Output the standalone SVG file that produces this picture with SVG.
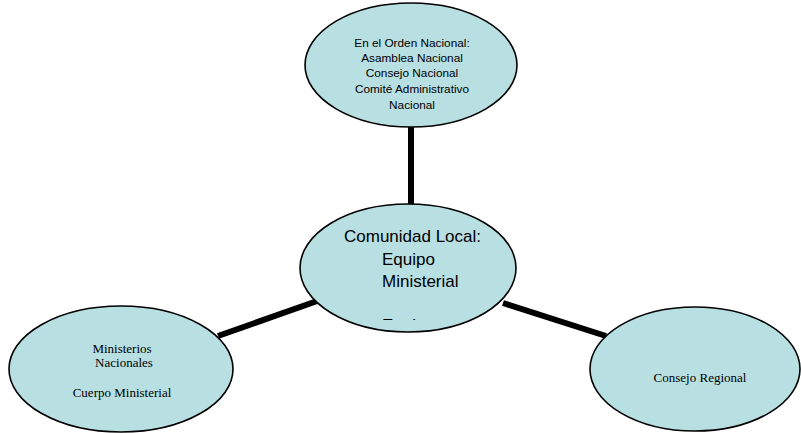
<svg xmlns="http://www.w3.org/2000/svg" width="801" height="433" viewBox="0 0 801 433">
<style>
.node ellipse{fill:#b8dfe2;stroke:#000;stroke-width:1.6}
.conn line{stroke:#000;stroke-width:6}
.sans{font-family:"Liberation Sans","Open Sans",sans-serif;fill:#000}
.serif{font-family:"Liberation Serif","DejaVu Serif",serif;font-size:13px;fill:#000}
</style>
<defs><clipPath id="cl"><rect x="300" y="300" width="200" height="20"/></clipPath></defs>
<g id="connectors" class="conn">
<line x1="411" y1="125" x2="411" y2="207"/>
<line x1="218" y1="336" x2="320" y2="300"/>
<line x1="503" y1="303" x2="606" y2="336"/>
</g>
<g id="node-top" class="node">
<ellipse cx="411" cy="65" rx="106" ry="62"/>
<g class="sans" font-size="11.8" text-anchor="middle">
<text x="412" y="47">En el Orden Nacional:</text>
<text x="412" y="62">Asamblea Nacional</text>
<text x="412" y="77">Consejo Nacional</text>
<text x="412" y="93">Comité Administrativo</text>
<text x="412" y="109">Nacional</text>
</g>
</g>
<g id="node-center" class="node">
<ellipse cx="408" cy="268" rx="108" ry="64"/>
<g class="sans" font-size="17">
<text x="344" y="242">Comunidad Local:</text>
<text x="382" y="265">Equipo</text>
<text x="382" y="287">Ministerial</text>
<text x="382" y="331" clip-path="url(#cl)">Equipo</text>
</g>
</g>
<g id="node-left" class="node">
<ellipse cx="121" cy="369" rx="112" ry="63"/>
<g class="serif" text-anchor="middle">
<text x="122" y="353">Ministerios</text>
<text x="124" y="367">Nacionales</text>
<text x="122" y="397">Cuerpo Ministerial</text>
</g>
</g>
<g id="node-right" class="node">
<ellipse cx="695" cy="369" rx="105" ry="62"/>
<text class="serif" x="700" y="382" text-anchor="middle">Consejo Regional</text>
</g>
</svg>
